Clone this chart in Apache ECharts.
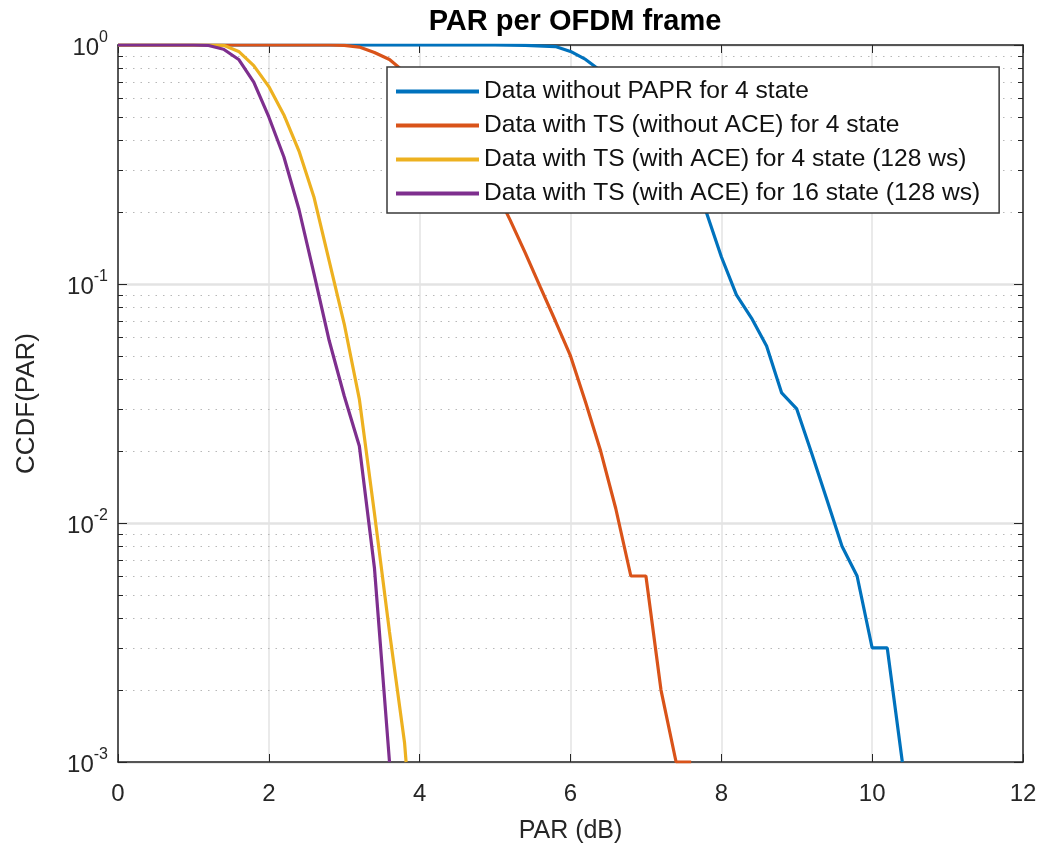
<!DOCTYPE html>
<html>
<head>
<meta charset="utf-8">
<title>PAR per OFDM frame</title>
<script src="https://cdn.jsdelivr.net/npm/echarts@6/dist/echarts.min.js"></script>
<style>
    html, body { margin: 0; padding: 0; background: #fff; }
    #chart { width: 1046px; height: 852px; }
</style>
</head>
<body>
<div id="chart"></div>
<script>
// series names (legend order)
var names = [
    'Data without PAPR for 4 state',
    'Data with TS (without ACE) for 4 state',
    'Data with TS (with ACE) for 4 state (128 ws)',
    'Data with TS (with ACE) for 16 state (128 ws)'
];

// values: x = PAR (dB), y = CCDF
var blueX = [0, 5.0, 5.4, 5.8, 6.0, 6.2, 6.4, 6.6, 6.8, 7.0, 7.2, 7.4, 7.6, 7.8, 8.0, 8.2, 8.4, 8.6, 8.8, 9.0, 9.2, 9.4, 9.6, 9.8, 10.0, 10.2, 10.4];
var blueY = [1, 1, 0.996, 0.985, 0.94, 0.87, 0.78, 0.68, 0.57, 0.47, 0.38, 0.31, 0.25, 0.2, 0.13, 0.09, 0.072, 0.055, 0.035, 0.03, 0.0195, 0.0125, 0.008, 0.006, 0.003, 0.003, 0.001];

var orangeX = [0, 2.8, 3.0, 3.2, 3.4, 3.6, 3.8, 4.0, 4.2, 4.4, 4.6, 4.8, 5.0, 5.2, 5.4, 5.6, 5.8, 6.0, 6.2, 6.4, 6.6, 6.8, 7.0, 7.2, 7.4, 7.6];
var orangeY = [1, 1, 0.997, 0.98, 0.93, 0.87, 0.77, 0.68, 0.59, 0.5, 0.42, 0.34, 0.25, 0.185, 0.135, 0.097, 0.07, 0.05, 0.032, 0.02, 0.0115, 0.006, 0.006, 0.002, 0.001, 0.001];

var yellowX = [0, 1.2, 1.4, 1.6, 1.8, 2.0, 2.2, 2.4, 2.6, 2.8, 3.0, 3.2, 3.4, 3.6, 3.8, 3.82];
var yellowY = [1, 1, 0.997, 0.94, 0.82, 0.67, 0.51, 0.36, 0.23, 0.125, 0.068, 0.033, 0.011, 0.0035, 0.0012, 0.001];

var purpleX = [0, 1.0, 1.2, 1.4, 1.6, 1.8, 2.0, 2.2, 2.4, 2.6, 2.8, 3.0, 3.2, 3.4, 3.6];
var purpleY = [1, 1, 0.995, 0.96, 0.87, 0.7, 0.5, 0.34, 0.205, 0.11, 0.058, 0.034, 0.021, 0.0065, 0.001];

var colors = ['#0072BD', '#D95319', '#EDB120', '#7E2F8E'];

// axes
var xTicks = [0, 2, 4, 6, 8, 10, 12];
var yDecades = [0.001, 0.01, 0.1, 1];
var yMinor = [0.002, 0.003, 0.004, 0.005, 0.006, 0.007, 0.008, 0.009,
              0.02, 0.03, 0.04, 0.05, 0.06, 0.07, 0.08, 0.09,
              0.2, 0.3, 0.4, 0.5, 0.6, 0.7, 0.8, 0.9];

var font = "'Liberation Sans', Arial, sans-serif";
var axisColor = '#262626';

function pairs(xs, ys) {
    return xs.map(function(x, i) { return [x, ys[i]]; });
}

var chart = echarts.init(document.getElementById('chart'));

var lineSeries = [
    pairs(blueX, blueY),
    pairs(orangeX, orangeY),
    pairs(yellowX, yellowY),
    pairs(purpleX, purpleY)
].map(function(d, i) {
    return {
        name: names[i],
        type: 'line',
        data: d,
        symbol: 'none',
        smooth: false,
        z: 2,
        lineStyle: { color: colors[i], width: 3.2 },
        itemStyle: { color: colors[i] }
    };
});

// minor log grid lines and the small ticks on the left/right frame
var minorSeries = {
    type: 'custom',
    silent: true,
    z: 1,
    data: yMinor.map(function(v) { return [xTicks[0], v]; }),
    renderItem: function(params, api) {
        var p = api.coord([api.value(0), api.value(1)]);
        var cs = params.coordSys;
        var y = Math.round(p[1]) + 0.5;
        return {
            type: 'group',
            children: [
                {
                    type: 'line',
                    shape: { x1: cs.x, y1: y, x2: cs.x + cs.width, y2: y },
                    style: { stroke: '#b8b8b8', lineWidth: 1, lineDash: [1.5, 6] }
                },
                {
                    type: 'line',
                    shape: { x1: cs.x, y1: y, x2: cs.x + 5, y2: y },
                    style: { stroke: axisColor, lineWidth: 1 }
                },
                {
                    type: 'line',
                    shape: { x1: cs.x + cs.width - 5, y1: y, x2: cs.x + cs.width, y2: y },
                    style: { stroke: axisColor, lineWidth: 1 }
                }
            ]
        };
    }
};

function yLabel(v) {
    var e = Math.round(Math.log10(v));
    return '{b|10}{s|' + e + '}';
}

var option = {
    animation: false,
    backgroundColor: '#fff',
    title: {
        text: 'PAR per OFDM frame',
        left: 570,
        top: 2,
        textAlign: 'center',
        textStyle: { fontFamily: font, fontSize: 29, fontWeight: 'bold', color: '#000' }
    },
    legend: {
        data: names,
        orient: 'vertical',
        left: 387,
        top: 67,
        z: 20,
        padding: [12, 19, 7, 9],
        itemGap: 9,
        itemWidth: 83,
        itemHeight: 4,
        icon: 'rect',
        backgroundColor: '#fff',
        borderColor: '#3a3a3a',
        borderWidth: 1.5,
        selectedMode: false,
        textStyle: { fontFamily: font, fontSize: 24.6, color: '#111', lineHeight: 24 }
    },
    grid: { left: 118, right: 23, top: 45, bottom: 90, containLabel: false },
    xAxis: [
        {
            type: 'value',
            min: 0,
            max: 12,
            interval: 2,
            name: 'PAR (dB)',
            nameLocation: 'middle',
            nameGap: 57,
            nameTextStyle: { fontFamily: font, fontSize: 25, color: axisColor },
            axisLine: { show: true, onZero: false, lineStyle: { color: axisColor, width: 1.5 } },
            axisTick: { show: true, inside: true, length: 8, lineStyle: { color: axisColor, width: 1 } },
            axisLabel: { fontFamily: font, fontSize: 24, color: axisColor, margin: 20 },
            splitLine: { show: true, lineStyle: { color: '#e3e3e3', width: 1.5 } }
        },
        {
            type: 'value',
            position: 'top',
            min: 0,
            max: 12,
            interval: 2,
            axisLine: { show: true, onZero: false, lineStyle: { color: axisColor, width: 1.5 } },
            axisTick: { show: true, inside: true, length: 8, lineStyle: { color: axisColor, width: 1 } },
            axisLabel: { show: false },
            splitLine: { show: false }
        }
    ],
    yAxis: [
        {
            type: 'log',
            logBase: 10,
            min: yDecades[0],
            max: yDecades[yDecades.length - 1],
            splitNumber: 3,
            name: 'CCDF(PAR)',
            nameLocation: 'middle',
            nameGap: 78,
            nameTextStyle: { fontFamily: font, fontSize: 26, color: axisColor },
            axisLine: { show: true, onZero: false, lineStyle: { color: axisColor, width: 1.5 } },
            axisTick: { show: true, inside: true, length: 9, lineStyle: { color: axisColor, width: 1 } },
            axisLabel: {
                margin: 10,
                formatter: yLabel,
                rich: {
                    b: { fontFamily: font, fontSize: 24, color: axisColor, verticalAlign: 'bottom', lineHeight: 30 },
                    s: { fontFamily: font, fontSize: 16, color: axisColor, verticalAlign: 'top', lineHeight: 30 }
                }
            },
            splitLine: { show: true, lineStyle: { color: '#e3e3e3', width: 2.5 } }
        },
        {
            type: 'log',
            logBase: 10,
            position: 'right',
            min: yDecades[0],
            max: yDecades[yDecades.length - 1],
            splitNumber: 3,
            axisLine: { show: true, onZero: false, lineStyle: { color: axisColor, width: 1.5 } },
            axisTick: { show: true, inside: true, length: 9, lineStyle: { color: axisColor, width: 1 } },
            axisLabel: { show: false },
            splitLine: { show: false }
        }
    ],
    series: [minorSeries].concat(lineSeries)
};

chart.setOption(option);
</script>
</body>
</html>
